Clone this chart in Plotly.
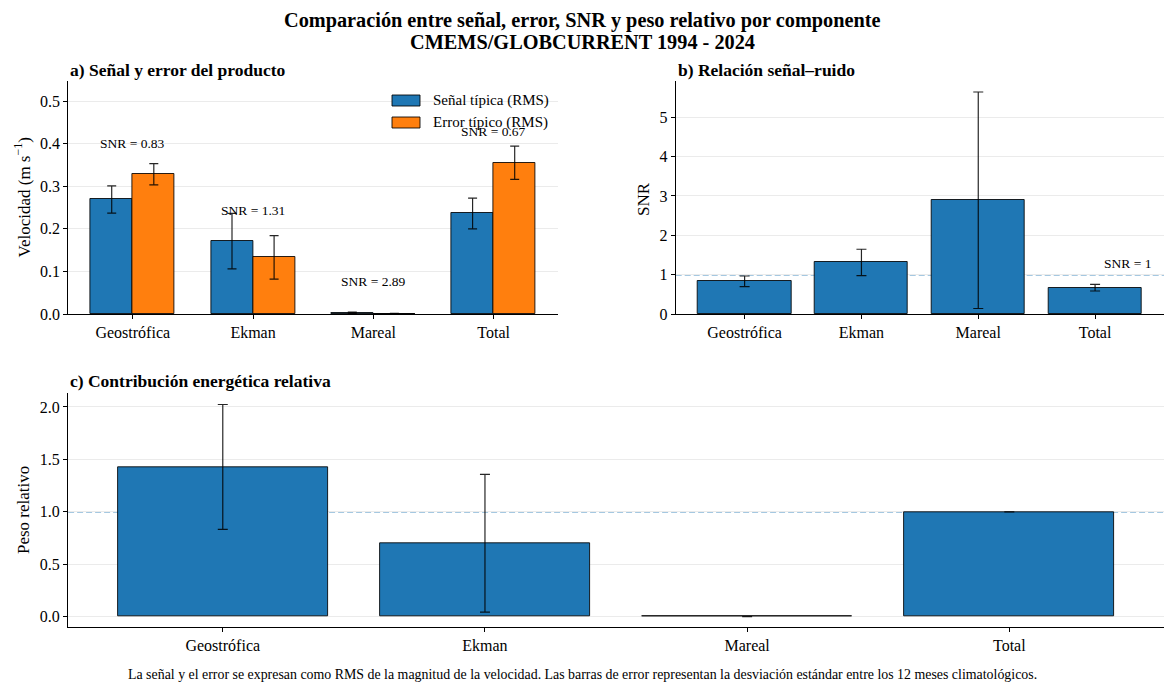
import plotly.graph_objects as go

# ---- data -------------------------------------------------------------
componentes = ["Geostrófica", "Ekman", "Mareal", "Total"]

senal_rms = [0.269, 0.171, 0.0030, 0.236]
senal_std = [0.032, 0.065, 0.0015, 0.036]
error_rms = [0.328, 0.133, 0.0010, 0.355]
error_std = [0.025, 0.051, 0.0005, 0.039]

snr = [0.83, 1.31, 2.89, 0.67]
snr_std = [0.135, 0.335, 2.75, 0.085]

peso = [1.428, 0.700, 0.0001, 1.0]
peso_std = [0.595, 0.657, 0.0002, 0.0]

a_ticks = [0.0, 0.1, 0.2, 0.3, 0.4, 0.5]
b_ticks = [0, 1, 2, 3, 4, 5]
c_ticks = [0.0, 0.5, 1.0, 1.5, 2.0]

# ---- styling ----------------------------------------------------------
W, H = 1164, 691
KY = 1.0132  # vertical stretch of the layout grid
FONT = "Liberation Serif"
C_BLUE = "#1f77b4"
C_ORANGE = "#ff7f0e"
EDGE = dict(color="rgba(0,0,0,0.85)", width=1)
GRID = "#ebebeb"
REF_LINE = "rgba(31,119,180,0.8)"


def px(x):
    return x / W


def py(y):
    return 1 - y * KY / H


def err(vals, cap):
    return dict(type="data", array=vals, visible=True, color="rgba(0,0,0,0.85)",
                thickness=1.2, width=cap)


fig = go.Figure()

# a) señal y error
fig.add_trace(go.Bar(
    x=componentes, y=senal_rms, name="Señal típica (RMS)",
    marker=dict(color=C_BLUE, line=EDGE), width=0.35, offset=-0.35,
    error_y=err(senal_std, 4.5), xaxis="x", yaxis="y", showlegend=False))
fig.add_trace(go.Bar(
    x=componentes, y=error_rms, name="Error típico (RMS)",
    marker=dict(color=C_ORANGE, line=EDGE), width=0.35, offset=0.0,
    error_y=err(error_std, 4.5), xaxis="x", yaxis="y", showlegend=False))

# b) relación señal-ruido
fig.add_trace(go.Bar(
    x=componentes, y=snr, marker=dict(color=C_BLUE, line=EDGE), width=0.8,
    error_y=err(snr_std, 5), xaxis="x2", yaxis="y2", showlegend=False))

# c) peso relativo
fig.add_trace(go.Bar(
    x=componentes, y=peso, marker=dict(color=C_BLUE, line=EDGE), width=0.8,
    error_y=err(peso_std, 5), xaxis="x3", yaxis="y3", showlegend=False))

axis_common = dict(
    showline=True, linecolor="black", linewidth=1.2, mirror=False,
    ticks="outside", ticklen=4, tickwidth=1, tickcolor="black",
    tickfont=dict(family=FONT, size=16, color="black"),
    zeroline=False,
)

ya = dict(axis_common, showgrid=True, gridcolor=GRID, gridwidth=1)
xa = dict(axis_common, showgrid=False, type="category")

fig.update_layout(
    width=W, height=H,
    margin=dict(l=0, r=0, t=0, b=0),
    paper_bgcolor="white", plot_bgcolor="white",
    barmode="overlay", bargap=0,
    font=dict(family=FONT, color="black"),
    xaxis=dict(xa, domain=[px(68.4), px(558)], range=[-0.535, 3.535], anchor="y"),
    yaxis=dict(ya, domain=[py(314), py(81)], range=[0, 0.547],
               tickvals=a_ticks, tickformat=".1f", anchor="x"),
    xaxis2=dict(xa, domain=[px(675.7), 1.0], range=[-0.59, 3.59], anchor="y2"),
    yaxis2=dict(ya, domain=[py(314), py(81)], range=[0, 5.92],
                tickvals=b_ticks, anchor="x2"),
    xaxis3=dict(xa, domain=[px(68.1), 1.0], range=[-0.59, 3.59], anchor="y3"),
    yaxis3=dict(ya, domain=[py(626.7), py(393.3)], range=[-0.095, 2.13],
                tickvals=c_ticks, tickformat=".1f", anchor="x3"),
)

# reference lines at 1 (below the bars)
for xr, yr in (("x2", "y2"), ("x3", "y3")):
    fig.add_shape(type="line", xref=xr, yref=yr, x0=-0.59, x1=3.59, y0=1, y1=1,
                  line=dict(color=REF_LINE, width=1.5, dash="6px,3px"), layer="below")

annotations = []

# SNR labels above each group in panel a
for c, s, e, r in zip(componentes, senal_rms, error_rms, snr):
    annotations.append(dict(
        x=c, y=max(s, e) + 0.05, xref="x", yref="y", text=f"SNR = {r:.2f}",
        showarrow=False, xanchor="center", yanchor="bottom",
        font=dict(family=FONT, size=13.5, color="black")))

annotations.append(dict(
    x=3.5, y=1.03, xref="x2", yref="y2", text="SNR = 1", showarrow=False,
    xanchor="right", yanchor="bottom", font=dict(family=FONT, size=13.5, color="black")))

# legend for panel a
legend_items = [("Señal típica (RMS)", C_BLUE, 95), ("Error típico (RMS)", C_ORANGE, 117)]
for label, color, ytop in legend_items:
    fig.add_shape(type="rect", xref="paper", yref="paper",
                  x0=px(392), x1=px(420), y0=py(ytop + 11), y1=py(ytop),
                  fillcolor=color, line=dict(color="rgba(0,0,0,0.85)", width=1))
    annotations.append(dict(
        x=px(431), y=py(ytop + 5.5), xref="paper", yref="paper", text=label,
        showarrow=False, xanchor="left", yanchor="middle",
        font=dict(family=FONT, size=15, color="black")))

# panel titles
for text, x, y in (("a) Señal y error del producto", 68.4, 70),
                   ("b) Relación señal–ruido", 675.7, 70),
                   ("c) Contribución energética relativa", 68.1, 381)):
    annotations.append(dict(
        x=px(x), y=py(y), xref="paper", yref="paper", text=f"<b>{text}</b>",
        showarrow=False, xanchor="left", yanchor="middle",
        font=dict(family=FONT, size=17.5, color="black")))

# y-axis titles
for text, x, y in (("Velocidad (m s<sup>−1</sup>)", 22, 197.5),
                   ("SNR", 643, 199),
                   ("Peso relativo", 23, 510)):
    annotations.append(dict(
        x=px(x), y=py(y), xref="paper", yref="paper", text=text, textangle=-90,
        showarrow=False, xanchor="center", yanchor="middle",
        font=dict(family=FONT, size=17, color="black")))

# main title
annotations.append(dict(
    x=0.5, y=py(20), xref="paper", yref="paper",
    text="<b>Comparación entre señal, error, SNR y peso relativo por componente</b>",
    showarrow=False, xanchor="center", yanchor="middle",
    font=dict(family=FONT, size=20.3, color="black")))
annotations.append(dict(
    x=0.5, y=py(42), xref="paper", yref="paper",
    text="<b>CMEMS/GLOBCURRENT 1994 - 2024</b>",
    showarrow=False, xanchor="center", yanchor="middle",
    font=dict(family=FONT, size=20.3, color="black")))

# footnote
annotations.append(dict(
    x=0.5, y=1 - 683 / H, xref="paper", yref="paper",
    text=("La señal y el error se expresan como RMS de la magnitud de la velocidad. "
          "Las barras de error representan la desviación estándar entre los 12 meses climatológicos."),
    showarrow=False, xanchor="center", yanchor="middle",
    font=dict(family=FONT, size=13.9, color="black")))

fig.update_layout(annotations=annotations)

fig.write_html("out.html")
